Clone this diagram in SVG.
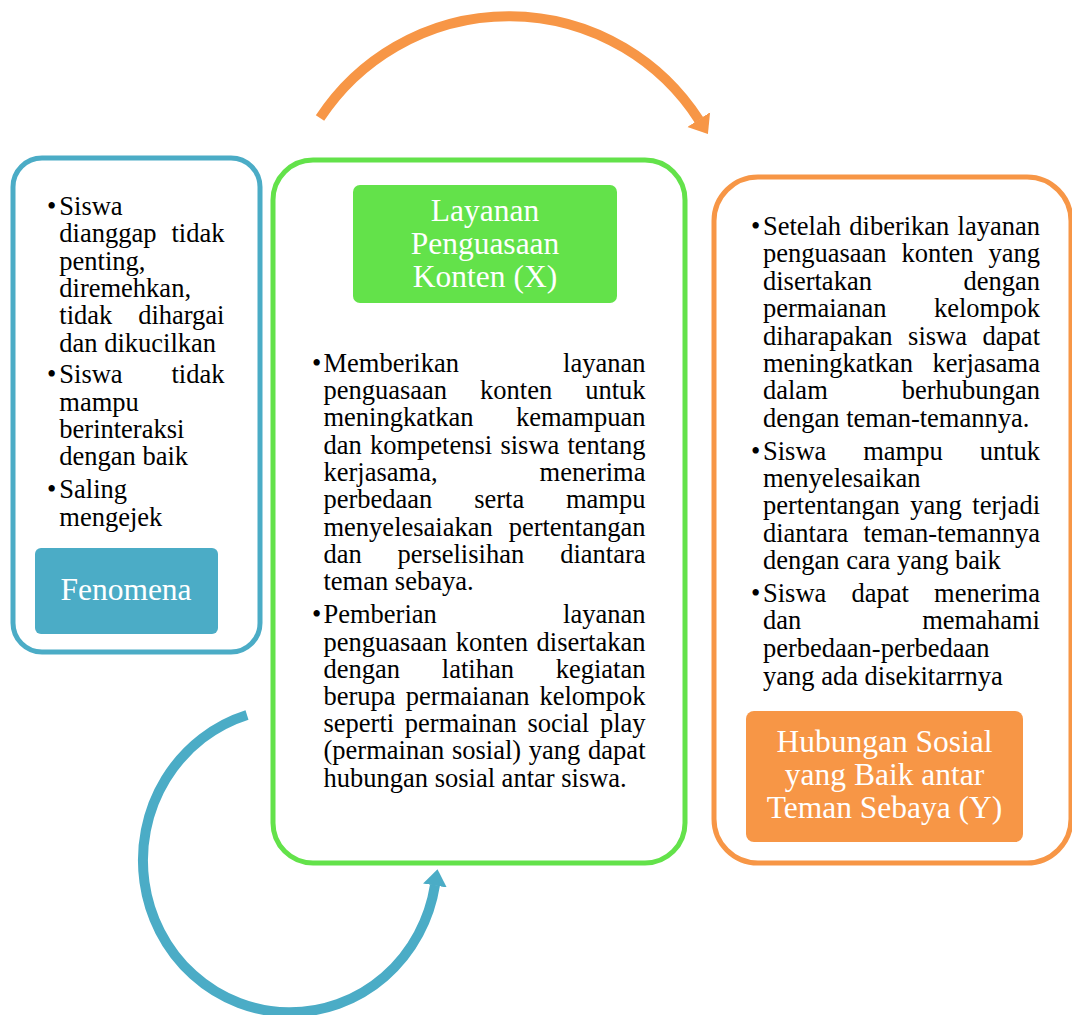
<svg xmlns="http://www.w3.org/2000/svg" width="1072" height="1015" viewBox="0 0 1072 1015">
  <style>
    .frame { fill: #ffffff; stroke-width: 5; }
    .t { font-family: "Liberation Serif", "Times New Roman", serif; font-size: 26.5px; fill: #000000; }
    .r { text-anchor: end; }
    .h { font-family: "Liberation Serif", "Times New Roman", serif; font-size: 31.5px; fill: #ffffff; text-anchor: middle; }
    .arc { fill: none; stroke-width: 10; }
  </style>
  <defs>
    <marker id="headOrange" markerUnits="userSpaceOnUse" markerWidth="20" markerHeight="30" viewBox="0 -15 20 30" refX="0.5" refY="0" orient="auto">
      <path d="M0,-13.5 L17,0 L0,13.5 Z" fill="#F79646"/>
    </marker>
    <marker id="headBlue" markerUnits="userSpaceOnUse" markerWidth="20" markerHeight="30" viewBox="0 -15 20 30" refX="0.5" refY="0" orient="auto">
      <path d="M0,-12 L16.5,0 L0,12 Z" fill="#4BACC6"/>
    </marker>
  </defs>

  <rect width="1072" height="1015" fill="#ffffff"/>

  <!-- Connectors: the two curved arrows -->
  <g id="connectors">
    <path class="arc" stroke="#F79646" d="M320,118 A226,226 0 0 1 699,120" marker-end="url(#headOrange)"/>
    <path class="arc" stroke="#4BACC6" d="M247,715 A147,152 0 1 0 435,885" marker-end="url(#headBlue)"/>
  </g>

  <!-- Fenomena -->
  <g id="fenomena">
    <rect class="frame" stroke="#4BACC6" x="13" y="158" width="247" height="494" rx="29"/>
    <text class="t" x="47" y="215">•</text>
    <text class="t" x="59.3" y="215">Siswa</text>
    <text class="t" x="59.3" y="242.3">dianggap</text><text class="t r" x="224.5" y="242.3">tidak</text>
    <text class="t" x="59.3" y="269.6">penting,</text>
    <text class="t" x="59.3" y="296.9">diremehkan,</text>
    <text class="t" x="59.3" y="324.2">tidak</text><text class="t r" x="224.5" y="324.2">dihargai</text>
    <text class="t" x="59.3" y="351.5">dan dikucilkan</text>
    <text class="t" x="47" y="383.3">•</text>
    <text class="t" x="59.3" y="383.3">Siswa</text><text class="t r" x="224.5" y="383.3">tidak</text>
    <text class="t" x="59.3" y="410.6">mampu</text>
    <text class="t" x="59.3" y="437.9">berinteraksi</text>
    <text class="t" x="59.3" y="465.2">dengan baik</text>
    <text class="t" x="47" y="498.3">•</text>
    <text class="t" x="59.3" y="498.3">Saling</text>
    <text class="t" x="59.3" y="525.6">mengejek</text>
    <rect x="35" y="548" width="183" height="86" rx="6" fill="#4BACC6"/>
    <text class="h" x="126" y="600">Fenomena</text>
  </g>

  <!-- Layanan Penguasaan Konten (X) -->
  <g id="layanan">
    <rect class="frame" stroke="#63E24A" x="273" y="160" width="412" height="703" rx="40"/>
    <rect x="353" y="185" width="264" height="118" rx="7" fill="#63E24A"/>
    <text class="h" x="485" y="221">Layanan</text>
    <text class="h" x="485" y="254">Penguasaan</text>
    <text class="h" x="485" y="287">Konten (X)</text>

    <text class="t" x="312" y="371.7">•</text>
    <text class="t" x="323.5" y="371.7">Memberikan</text><text class="t r" x="645.5" y="371.7">layanan</text>
    <text class="t" x="323.5" y="399">penguasaan</text><text class="t" x="480.1" y="399">konten</text><text class="t r" x="645.5" y="399">untuk</text>
    <text class="t" x="323.5" y="426.3">meningkatkan</text><text class="t r" x="645.5" y="426.3">kemampuan</text>
    <text class="t" x="323.5" y="453.6">dan</text><text class="t" x="370" y="453.6">kompetensi</text><text class="t" x="500.4" y="453.6">siswa</text><text class="t r" x="645.5" y="453.6">tentang</text>
    <text class="t" x="323.5" y="480.9">kerjasama,</text><text class="t r" x="645.5" y="480.9">menerima</text>
    <text class="t" x="323.5" y="508.2">perbedaan</text><text class="t" x="474.2" y="508.2">serta</text><text class="t r" x="645.5" y="508.2">mampu</text>
    <text class="t" x="323.5" y="535.5">menyelesaiakan</text><text class="t r" x="645.5" y="535.5">pertentangan</text>
    <text class="t" x="323.5" y="562.8">dan</text><text class="t" x="397.6" y="562.8">perselisihan</text><text class="t r" x="645.5" y="562.8">diantara</text>
    <text class="t" x="323.5" y="590.1">teman sebaya.</text>

    <text class="t" x="312" y="623.3">•</text>
    <text class="t" x="323.5" y="623.3">Pemberian</text><text class="t r" x="645.5" y="623.3">layanan</text>
    <text class="t" x="323.5" y="650.5">penguasaan</text><text class="t" x="455.8" y="650.5">konten</text><text class="t r" x="645.5" y="650.5">disertakan</text>
    <text class="t" x="323.5" y="677.7">dengan</text><text class="t" x="441.8" y="677.7">latihan</text><text class="t r" x="645.5" y="677.7">kegiatan</text>
    <text class="t" x="323.5" y="704.9">berupa</text><text class="t" x="405.8" y="704.9">permaianan</text><text class="t r" x="645.5" y="704.9">kelompok</text>
    <text class="t" x="323.5" y="732.1">seperti</text><text class="t" x="404.8" y="732.1">permainan</text><text class="t" x="527.4" y="732.1">social</text><text class="t r" x="645.5" y="732.1">play</text>
    <text class="t" x="323.5" y="759.3">(permainan</text><text class="t" x="451.9" y="759.3">sosial)</text><text class="t" x="528.8" y="759.3">yang</text><text class="t r" x="645.5" y="759.3">dapat</text>
    <text class="t" x="323.5" y="786.5">hubungan sosial antar siswa.</text>
  </g>

  <!-- Hubungan Sosial yang Baik antar Teman Sebaya (Y) -->
  <g id="hubungan">
    <rect class="frame" stroke="#F79646" x="714" y="177" width="357" height="686" rx="44"/>
    <text class="t" x="751" y="235">•</text>
    <text class="t" x="763" y="235">Setelah</text><text class="t" x="849.3" y="235">diberikan</text><text class="t r" x="1040" y="235">layanan</text>
    <text class="t" x="763" y="262.4">penguasaan</text><text class="t" x="901.5" y="262.4">konten</text><text class="t r" x="1040" y="262.4">yang</text>
    <text class="t" x="763" y="289.8">disertakan</text><text class="t r" x="1040" y="289.8">dengan</text>
    <text class="t" x="763" y="317.2">permaianan</text><text class="t r" x="1040" y="317.2">kelompok</text>
    <text class="t" x="763" y="344.6">diharapakan</text><text class="t" x="908.1" y="344.6">siswa</text><text class="t r" x="1040" y="344.6">dapat</text>
    <text class="t" x="763" y="372">meningkatkan</text><text class="t r" x="1040" y="372">kerjasama</text>
    <text class="t" x="763" y="399.4">dalam</text><text class="t r" x="1040" y="399.4">berhubungan</text>
    <text class="t" x="763" y="426.8">dengan teman-temannya.</text>

    <text class="t" x="751" y="459.5">•</text>
    <text class="t" x="763" y="459.5">Siswa</text><text class="t" x="863.2" y="459.5">mampu</text><text class="t r" x="1040" y="459.5">untuk</text>
    <text class="t" x="763" y="486.9">menyelesaikan</text>
    <text class="t" x="763" y="514.3">pertentangan</text><text class="t" x="910.3" y="514.3">yang</text><text class="t r" x="1040" y="514.3">terjadi</text>
    <text class="t" x="763" y="541.7">diantara</text><text class="t r" x="1040" y="541.7">teman-temannya</text>
    <text class="t" x="763" y="569.1">dengan cara yang baik</text>

    <text class="t" x="751" y="601.7">•</text>
    <text class="t" x="763" y="601.7">Siswa</text><text class="t" x="851.5" y="601.7">dapat</text><text class="t r" x="1040" y="601.7">menerima</text>
    <text class="t" x="763" y="629.3">dan</text><text class="t r" x="1040" y="629.3">memahami</text>
    <text class="t" x="763" y="656.9">perbedaan-perbedaan</text>
    <text class="t" x="763" y="684.5">yang ada disekitarrnya</text>

    <rect x="746" y="711" width="277" height="131" rx="8" fill="#F79646"/>
    <text class="h" x="884.5" y="751.5">Hubungan Sosial</text>
    <text class="h" x="884.5" y="784.5">yang Baik antar</text>
    <text class="h" x="884.5" y="817.5">Teman Sebaya (Y)</text>
  </g>
</svg>
